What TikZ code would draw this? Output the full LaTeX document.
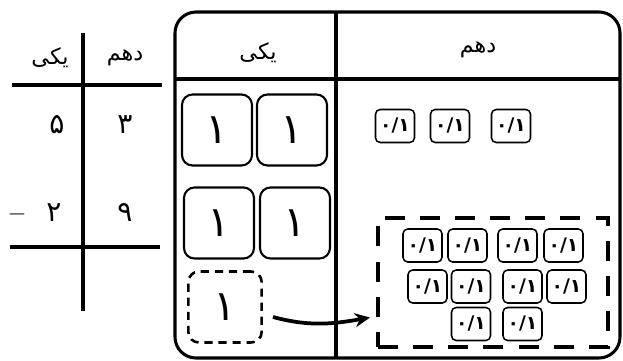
\documentclass[tikz,border=0pt]{standalone}
\usepackage{fontspec}
\newfontfamily\arabicfont[Script=Arabic]{DejaVu Sans}
\TeXXeTstate=1
\usetikzlibrary{arrows.meta}

\begin{document}
\begin{tikzpicture}[x=0.03cm,y=-0.03cm,
		fa/.style={font=\arabicfont\fontsize{19}{22}\selectfont},
		digit/.style={font=\arabicfont\fontsize{24}{28}\selectfont},
		bar/.style={line width=3.4pt},
		one/.style={draw,rounded corners=9pt,line width=1.8pt,minimum width=2.1cm,minimum height=2.13cm,inner sep=0pt,font=\arabicfont\fontsize{36}{40}\selectfont},
		tenth/.style={draw,rounded corners=4pt,line width=1.3pt,minimum width=1.17cm,minimum height=0.99cm,inner sep=0pt,font=\arabicfont\bfseries\fontsize{16}{18}\selectfont}]
		\newcommand{\rtl}[1]{\beginR #1\endR}
		\newcommand{\dahom}{۰/۱}
		\useasboundingbox (0,0) rectangle (623,360);
		% table on the left
		\coordinate (vtop) at (83,33);
		\coordinate (vbot) at (83,311);
		\coordinate (h1l) at (12,85);
		\coordinate (h1r) at (162,85);
		\coordinate (h2l) at (10,247);
		\coordinate (h2r) at (160,247);
		\draw[bar] (vtop) -- (vbot);
		\draw[bar] (h1l) -- (h1r);
		\draw[bar] (h2l) -- (h2r);
		\node[fa] (tyek) at (50,58) {\rtl{یکی}};
		\node[fa] (tdah) at (125,58) {\rtl{دهم}};
		\node[digit] (a1) at (57,125) {۵};
		\node[digit] (a2) at (125,125) {۳};
		\node[digit] (b1) at (54,213) {۲};
		\node[digit] (b2) at (125,213) {۹};
		\node[font=\fontsize{20}{20}\selectfont] (minus) at (17,214) {$-$};
		% place value chart
		\node[draw,line width=2.6pt,rounded corners=18pt,minimum width=13.35cm,minimum height=10.38cm,inner sep=0pt] (chart) at (397.5,185) {};
		\coordinate (dtop) at (336,12);
		\coordinate (dbot) at (336,358);
		\coordinate (hl) at (175,79);
		\coordinate (hr) at (620,79);
		\draw[line width=2.6pt] (dtop) -- (dbot);
		\draw[line width=2.6pt] (hl) -- (hr);
		\node[fa] (yek) at (258,53) {\rtl{یکی}};
		\node[fa] (dah) at (478,50) {\rtl{دهم}};
		% ones
		\node[one] (u1) at (217,130) {۱};
		\node[one] (u2) at (292,130) {۱};
		\node[one] (u3) at (219,223) {۱};
		\node[one] (u4) at (295,223) {۱};
		\node[one,dash pattern=on 7pt off 5pt,line width=2.2pt,minimum width=2.2cm] (u5) at (225,307) {۱};
		% tenths
		\node[tenth] (d1) at (395,126) {\dahom};
		\node[tenth] (d2) at (450,126) {\dahom};
		\node[tenth] (d3) at (511,126) {\dahom};
		\node[draw,line width=3.4pt,dash pattern=on 17pt off 13pt,minimum width=6.9cm,minimum height=3.87cm,inner sep=0pt] (box) at (493,282.5) {};
		\node[tenth] (e1) at (422.5,245.5) {\dahom};
		\node[tenth] (e2) at (467.5,245.5) {\dahom};
		\node[tenth] (e3) at (517.5,245.5) {\dahom};
		\node[tenth] (e4) at (563.5,245.5) {\dahom};
		\node[tenth] (e5) at (427.5,286.5) {\dahom};
		\node[tenth] (e6) at (471,286.5) {\dahom};
		\node[tenth] (e7) at (522.5,286.5) {\dahom};
		\node[tenth] (e8) at (566.5,286.5) {\dahom};
		\node[tenth] (e9) at (471,324) {\dahom};
		\node[tenth] (e10) at (522.5,324) {\dahom};
		% carry one over
		\draw[line width=3.2pt,-{Stealth[length=13pt,width=12pt]}] ([shift={(10,10)}]u5.east) to[out=-15,in=190] ([shift={(-6,35)}]box.west);
\end{tikzpicture}
\end{document}
